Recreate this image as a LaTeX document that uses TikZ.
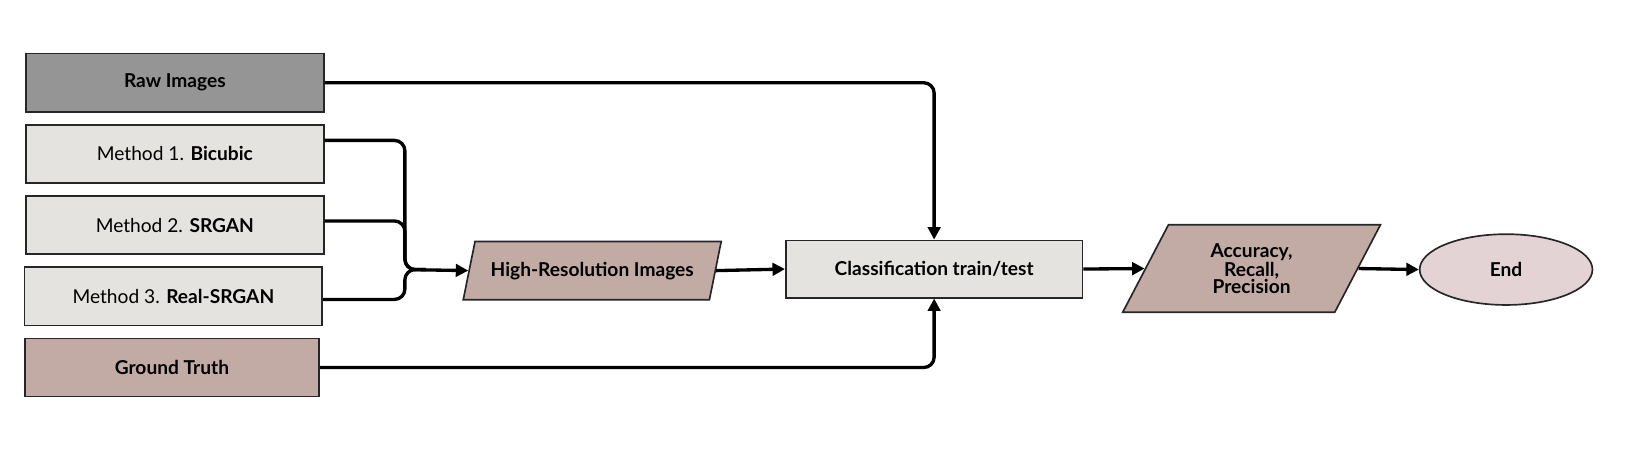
\documentclass[tikz,border=0pt]{standalone}
\usepackage{fontspec}
\setmainfont{Lato}
\usetikzlibrary{shapes.geometric, positioning, arrows.meta}
\definecolor{rawgray}{HTML}{959595}
\definecolor{methodgray}{HTML}{E4E3DF}
\definecolor{rosy}{HTML}{C2AAA5}
\definecolor{pale}{HTML}{E3D3D4}

\begin{document}
\begin{tikzpicture}[
    x=0.5pt, y=-0.5pt,
    block/.style={draw=black!85, line width=0.8pt, rectangle, minimum width=143pt, minimum height=28pt, font=\fontsize{9.2}{11}\selectfont, align=center, inner sep=0pt},
    rawbox/.style={fill=rawgray, font=\bfseries\fontsize{9.2}{11}\selectfont},
    method/.style={fill=methodgray},
    truth/.style={fill=rosy, font=\bfseries\fontsize{9.2}{11}\selectfont},
    databox/.style={draw=black!85, line width=0.8pt, trapezium, trapezium stretches=true, fill=rosy, font=\bfseries\fontsize{9.2}{8.2}\selectfont, align=center, inner sep=0pt},
    conn/.style={line width=1.6pt, rounded corners=5pt},
    arrowed/.style={-{Triangle[length=6pt, width=6pt]}}]

\useasboundingbox (0,0) rectangle (1568,438);

% Inputs
\node[block, rawbox] (rawimg) at (168,79.5) {Raw Images};
\node[block, method, below=5.4pt of rawimg] (m1) {Method 1. \textbf{Bicubic}};
\node[block, method, below=5.4pt of m1] (m2) {Method 2. \textbf{SRGAN}};
\node[block, method, below=5.4pt of m2, xshift=-0.7pt] (m3) {Method 3. \textbf{Real-SRGAN}};
\node[block, truth, below=5.4pt of m3, minimum width=141.5pt, xshift=-0.7pt] (gt) {Ground Truth};

% Pipeline
\node[databox, trapezium left angle=60, trapezium right angle=120, minimum width=124pt, minimum height=28pt] (hr) at (569,260) {High-Resolution Images};
\node[block, method, font=\bfseries\fontsize{9.2}{11}\selectfont, minimum width=142.5pt, minimum height=27.5pt] (cls) at (897.5,258.5) {Classification train/test};
\node[databox, trapezium left angle=66, trapezium right angle=114, minimum width=124.5pt, minimum height=42pt] (acc) at (1202.5,258) {Accuracy,\\Recall,\\Precision};
\node[draw=black!85, line width=0.8pt, ellipse, fill=pale, minimum width=83pt, minimum height=34pt, font=\bfseries\fontsize{9.2}{11}\selectfont] (end) at (1447,259) {End};

% Connectors
\coordinate (merge) at (389,259);
\draw[conn, arrowed] ([yshift=6.5pt]m1.east) -| (merge) -- (hr.west);
\draw[conn] ([yshift=2pt]m2.east) -| (merge) -- +(20,0);
\draw[conn] ([yshift=-1.5pt]m3.east) -| (merge) -- +(20,0);
\draw[conn, arrowed] (rawimg.east) -| (cls.north);
\draw[conn, arrowed] (gt.east) -| (cls.south);
\draw[conn, arrowed] (hr.east) -- (cls.west);
\draw[conn, arrowed] (cls.east) -- (acc.west);
\draw[conn, arrowed] (acc.east) -- (end.west);

\end{tikzpicture}
\end{document}
